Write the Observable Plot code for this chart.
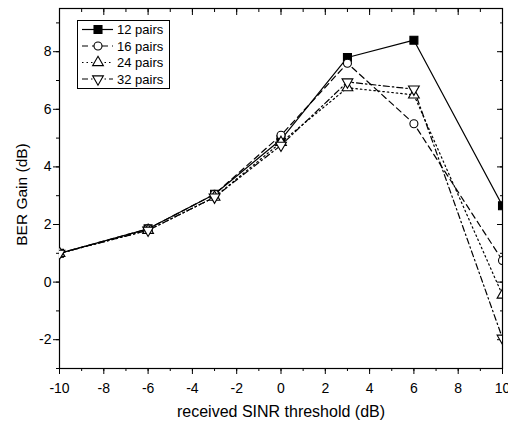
<!DOCTYPE html>
<html><head><meta charset="utf-8">
<script src="https://cdn.jsdelivr.net/npm/d3@7"></script>
<script src="https://cdn.jsdelivr.net/npm/@observablehq/plot@0.6"></script>
<style>
body{margin:0;background:#fff;font-family:"Liberation Sans",Arial,sans-serif}
#wrap{position:relative;width:508px;height:425px}
#legend{position:absolute;left:77px;top:20px}
</style></head><body><div id="wrap"></div>
<script>
const thresholds = [-10, -6, -3, 0, 3, 6, 10];
const seriesNames = ["12 pairs", "16 pairs", "24 pairs", "32 pairs"];
const gain12 = [1.0, 1.85, 3.05, 4.95, 7.8, 8.4, 2.65];
const gain16 = [1.0, 1.85, 3.05, 5.1, 7.6, 5.5, 0.75];
const gain24 = [1.0, 1.8, 2.95, 4.85, 6.75, 6.5, -0.45];
const gain32 = [1.0, 1.8, 2.95, 4.75, 6.95, 6.7, -1.95];
const xMajorTicks = [-10, -8, -6, -4, -2, 0, 2, 4, 6, 8, 10];
const yMajorTicks = [-2, 0, 2, 4, 6, 8];
const xMinorTicks = d3.range(-10, 11, 1);
const yMinorTicks = d3.range(-3, 10, 1);

const allGains = [gain12, gain16, gain24, gain32];
const dashes = [null, "6,4", "1.5,3", "6,3,1.5,3"];
const symbols = ["square", "circle", "triangle", "triangle"];
const rotations = [0, 0, 0, 180];
const fills = ["black", "white", "white", "white"];
const radii = [4.5, 4, 4, 4];

const data = seriesNames.map((name, i) => thresholds.map((t, j) => ({series: name, x: t, y: allGains[i][j]})));

const marks = [];
data.forEach((rows, i) => {
  marks.push(Plot.line(rows, {x: "x", y: "y", stroke: "black", strokeWidth: 1.2, strokeDasharray: dashes[i], clip: true}));
});
data.forEach((rows, i) => {
  marks.push(Plot.dot(rows, {x: "x", y: "y", symbol: symbols[i], r: radii[i], rotate: rotations[i], fill: fills[i], stroke: "black", strokeWidth: 1.1, clip: true}));
});

const plot = Plot.plot({
  width: 508, height: 425,
  marginLeft: 59, marginRight: 6, marginTop: 8, marginBottom: 57,
  style: {fontFamily: "Liberation Sans, Arial, sans-serif", fontSize: "14px", background: "white", color: "black"},
  x: {domain: [-10, 10], label: null},
  y: {domain: [-3, 9.5], label: null},
  marks: [
    Plot.frame({stroke: "black", strokeWidth: 1.2}),
    Plot.axisX({ticks: xMajorTicks, tickSize: 6, tickPadding: 9, tickFormat: d => String(d), label: null, fontSize: 14}),
    Plot.axisX({ticks: xMinorTicks, tickSize: 3, fill: "none", label: null}),
    Plot.axisX({anchor: "top", ticks: xMajorTicks, tickSize: 6, dy: 6, fill: "none", label: null}),
    Plot.axisX({anchor: "top", ticks: xMinorTicks, tickSize: 3, dy: 3, fill: "none", label: null}),
    Plot.axisY({ticks: yMajorTicks, tickSize: 6, tickPadding: 2, tickFormat: d => String(d), label: null, fontSize: 14}),
    Plot.axisY({ticks: yMinorTicks, tickSize: 3, fill: "none", label: null}),
    Plot.axisY({anchor: "right", ticks: yMajorTicks, tickSize: 6, dx: -6, fill: "none", label: null}),
    Plot.axisY({anchor: "right", ticks: yMinorTicks, tickSize: 3, dx: -3, fill: "none", label: null}),
    Plot.text(["received SINR threshold (dB)"], {frameAnchor: "bottom", textAnchor: "middle", dy: 48, fontSize: 16, fill: "black"}),
    Plot.text(["BER Gain (dB)"], {frameAnchor: "left", textAnchor: "middle", dx: -37, dy: 6, rotate: -90, fontSize: 15.5, fill: "black"}),
    ...marks
  ]
});
document.getElementById("wrap").appendChild(plot);

// legend
const lg = d3.select("#wrap").append("svg").attr("id", "legend").attr("width", 93).attr("height", 69);
lg.append("rect").attr("x", 0.5).attr("y", 0.5).attr("width", 92).attr("height", 68).attr("fill", "white").attr("stroke", "black").attr("stroke-width", 1);
seriesNames.forEach((name, i) => {
  const cy = 9.5 + i * 16.5;
  lg.append("line").attr("x1", 5).attr("x2", 36).attr("y1", cy).attr("y2", cy)
    .attr("stroke", "black").attr("stroke-width", 1.2).attr("stroke-dasharray", dashes[i]);
  const sym = {square: d3.symbolSquare, circle: d3.symbolCircle, triangle: d3.symbolTriangle}[symbols[i]];
  lg.append("path").attr("d", d3.symbol(sym, Math.PI * radii[i] * radii[i])())
    .attr("transform", `translate(21,${cy}) rotate(${rotations[i]})`)
    .attr("fill", fills[i]).attr("stroke", "black").attr("stroke-width", 1.1);
  lg.append("text").attr("x", 40).attr("y", cy).attr("dy", "0.35em").attr("font-size", 13)
    .attr("font-family", "Liberation Sans, Arial, sans-serif").text(name);
});
</script></body></html>
